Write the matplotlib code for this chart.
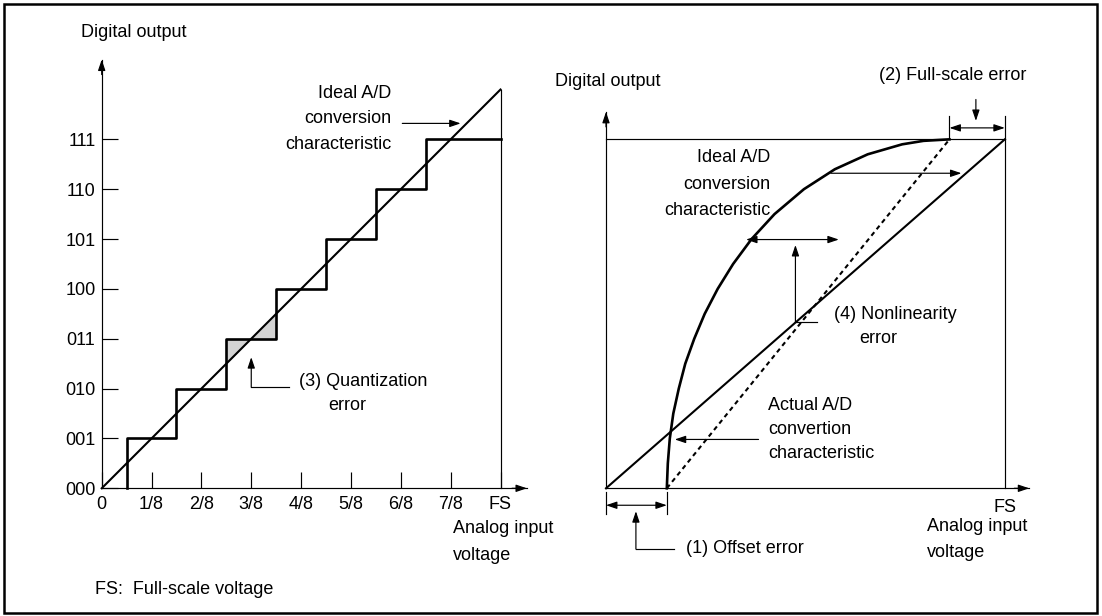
import matplotlib.pyplot as plt
from matplotlib.patches import Rectangle

plt.rcParams['font.family'] = ['Liberation Sans', 'DejaVu Sans']
FS_PT = 13

# left panel: ideal 3-bit converter
codes = ['000', '001', '010', '011', '100', '101', '110', '111']
x_labels = ['0', '1/8', '2/8', '3/8', '4/8', '5/8', '6/8', '7/8', 'FS']
stair_x = [0.5, 0.5, 1.5, 2.5, 3.5, 4.5, 5.5, 6.5, 8.0]
stair_y = [0, 1, 2, 3, 4, 5, 6, 7, 7]
ideal_left_x = [0, 8]
ideal_left_y = [0, 8]
shade_x = [2.5, 3.5]

# right panel: error types
ideal_right_x = [0, 8]
ideal_right_y = [0, 7]
offset_x = 1.22
fullscale_x = 6.89
curve_x = [1.22, 1.24, 1.28, 1.35, 1.46, 1.59, 1.77, 1.98, 2.24, 2.55,
           2.92, 3.38, 3.97, 4.59, 5.25, 5.94, 6.37, 6.89]
curve_y = [0, 0.5, 1.0, 1.5, 2.0, 2.5, 3.0, 3.5, 4.0, 4.5,
           5.0, 5.5, 6.0, 6.4, 6.7, 6.9, 6.97, 7.0]

W, H = 1102, 616
U = 49.85          # pixels per unit
ORIGIN_Y = 488.3

fig = plt.figure(figsize=(W / 100, H / 100), dpi=100)
fig.patches.append(Rectangle((4 / W, 3 / H), 1093 / W, 609 / H, transform=fig.transFigure,
                             fill=False, lw=1.8, ec='black'))

THIN = 0.85
THICK = 1.9
MID = 1.5
arrow = dict(arrowstyle='-|>,head_length=0.65,head_width=0.22', mutation_scale=10,
             lw=THIN, color='black', shrinkA=0, shrinkB=0)
arrow2 = dict(arrowstyle='<|-|>,head_length=0.65,head_width=0.22', mutation_scale=10,
              lw=THIN, color='black', shrinkA=0, shrinkB=0)


def make_axes(x0, xmax, ymax):
    ax = fig.add_axes([x0 / W, (H - ORIGIN_Y) / H, xmax * U / W, ymax * U / H])
    ax.set_xlim(0, xmax)
    ax.set_ylim(0, ymax)
    ax.patch.set_visible(False)
    for s in ['top', 'right']:
        ax.spines[s].set_visible(False)
    for s in ['left', 'bottom']:
        ax.spines[s].set_linewidth(THIN)
    # axis arrowheads
    ax.annotate('', xy=(xmax, 0), xytext=(xmax - 0.3, 0), arrowprops=arrow, annotation_clip=False)
    ax.annotate('', xy=(0, ymax), xytext=(0, ymax - 0.3), arrowprops=arrow, annotation_clip=False)
    return ax


def txt(ax, x, y, s, ha='left', ls=1.75):
    ax.text(x, y, s, ha=ha, va='center', fontsize=FS_PT, linespacing=ls)


# ---------------- left panel ----------------
ax = make_axes(101.7, 8.53, 8.6)
ax.set_yticks(range(8), codes)
ax.set_xticks(range(9), x_labels)
ax.tick_params(axis='y', direction='in', length=11.2, width=THIN, pad=4.5, labelsize=FS_PT)
ax.tick_params(axis='x', direction='in', length=11.5, width=THIN, pad=5.5, labelsize=FS_PT)

ax.fill_between(shade_x, shade_x, 3, color='#d4d4d4', lw=0, zorder=1)
ax.step(stair_x, stair_y, where='post', color='black', lw=THICK, zorder=3, clip_on=False)
ax.plot(ideal_left_x, ideal_left_y, color='black', lw=MID, zorder=3, clip_on=False)
ax.plot([8, 8], [0, 8], color='black', lw=THIN, clip_on=False)

txt(ax, -0.41, 9.14, 'Digital output')
txt(ax, 5.81, 7.41, 'Ideal A/D\nconversion\ncharacteristic', ha='right', ls=1.68)
ax.annotate('', xy=(7.2, 7.32), xytext=(6.03, 7.32), arrowprops=arrow)
ax.plot([3.76, 3.0], [2.03, 2.03], color='black', lw=THIN)
ax.annotate('', xy=(3.0, 2.63), xytext=(3.0, 2.03), arrowprops=arrow)
txt(ax, 3.96, 2.14, '(3) Quantization')
txt(ax, 4.54, 1.67, 'error')
txt(ax, 7.04, -1.07, 'Analog input\nvoltage', ls=1.75)
txt(ax, -0.14, -2.03, 'FS:  Full-scale voltage')

# ---------------- right panel ----------------
ax2 = make_axes(606.0, 8.49, 7.55)
ax2.set_yticks([])
ax2.set_xticks([8], ['FS'])
ax2.tick_params(axis='x', length=0, pad=7.5, labelsize=FS_PT)

ax2.plot([0, 8], [7, 7], color='black', lw=THIN, clip_on=False)
ax2.plot([8, 8], [0, 7], color='black', lw=THIN, clip_on=False)
ax2.plot(ideal_right_x, ideal_right_y, color='black', lw=MID, clip_on=False)
ax2.plot([offset_x, fullscale_x], [0, 7], color='black', lw=MID, dashes=(2.2, 1.8), clip_on=False)
ax2.plot(curve_x, curve_y, color='black', lw=THICK, clip_on=False, solid_joinstyle='round')

# (2) full-scale error
ax2.plot([fullscale_x, fullscale_x], [7.0, 7.47], color='black', lw=THIN, clip_on=False)
ax2.plot([8, 8], [7.0, 7.47], color='black', lw=THIN, clip_on=False)
ax2.annotate('', xy=(8, 7.23), xytext=(fullscale_x, 7.23), arrowprops=arrow2, annotation_clip=False)
ax2.annotate('', xy=(7.42, 7.37), xytext=(7.42, 7.8), arrowprops=arrow, annotation_clip=False)
txt(ax2, 5.47, 8.29, '(2) Full-scale error')
txt(ax2, -1.02, 8.16, 'Digital output')

# labels inside
txt(ax2, 3.3, 6.1, 'Ideal A/D\nconversion\ncharacteristic', ha='right')
ax2.annotate('', xy=(7.13, 6.32), xytext=(4.51, 6.32), arrowprops=arrow)
ax2.annotate('', xy=(4.67, 4.99), xytext=(2.81, 4.99), arrowprops=arrow2)

# (4) nonlinearity
ax2.plot([4.23, 3.8], [3.34, 3.34], color='black', lw=THIN)
ax2.annotate('', xy=(3.8, 4.88), xytext=(3.8, 3.34), arrowprops=arrow)
txt(ax2, 4.57, 3.48, '(4) Nonlinearity')
txt(ax2, 5.08, 3.01, 'error')

txt(ax2, 3.25, 1.18, 'Actual A/D\nconvertion\ncharacteristic', ls=1.55)
ax2.annotate('', xy=(1.38, 0.98), xytext=(3.06, 0.98), arrowprops=arrow)

# (1) offset error
ax2.plot([0, 0], [-0.07, -0.52], color='black', lw=THIN, clip_on=False)
ax2.plot([offset_x, offset_x], [-0.07, -0.52], color='black', lw=THIN, clip_on=False)
ax2.annotate('', xy=(offset_x, -0.34), xytext=(0, -0.34), arrowprops=arrow2, annotation_clip=False)
ax2.plot([0.6, 1.36], [-1.22, -1.22], color='black', lw=THIN, clip_on=False)
ax2.annotate('', xy=(0.6, -0.46), xytext=(0.6, -1.22), arrowprops=arrow, annotation_clip=False)
txt(ax2, 1.6, -1.2, '(1) Offset error')
txt(ax2, 6.43, -1.02, 'Analog input\nvoltage', ls=1.7)

fig.savefig('out.png', dpi=100)
